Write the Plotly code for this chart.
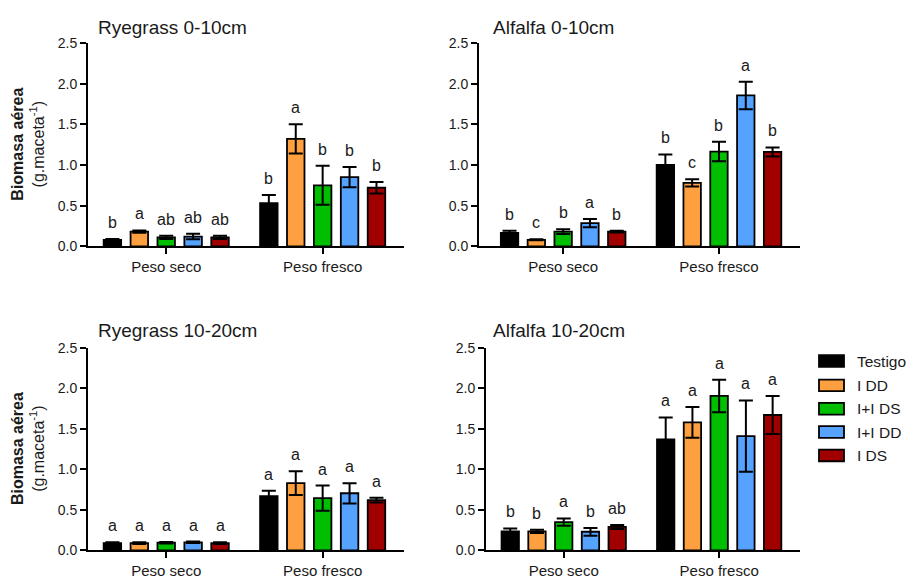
import plotly.graph_objects as go

# ---------------- data ----------------
categories = ["Peso seco", "Peso fresco"]
treatments = ["Testigo", "I DD", "I+I DS", "I+I DD", "I DS"]
bar_colors = ["#000000", "#FFA040", "#00BF00", "#55A2FF", "#A00000"]

panel_titles = ["Ryegrass 0-10cm", "Alfalfa 0-10cm", "Ryegrass 10-20cm", "Alfalfa 10-20cm"]

# values indexed [category][treatment]
rye_0_10_mean = [[0.08, 0.18, 0.11, 0.12, 0.11], [0.53, 1.32, 0.75, 0.85, 0.72]]
rye_0_10_err = [[0.01, 0.015, 0.02, 0.035, 0.02], [0.10, 0.18, 0.24, 0.125, 0.07]]
rye_0_10_let = [["b", "a", "ab", "ab", "ab"], ["b", "a", "b", "b", "b"]]

alf_0_10_mean = [[0.165, 0.08, 0.18, 0.285, 0.18], [1.00, 0.78, 1.165, 1.855, 1.16]]
alf_0_10_err = [[0.025, 0.005, 0.03, 0.05, 0.01], [0.13, 0.045, 0.12, 0.17, 0.055]]
alf_0_10_let = [["b", "c", "b", "a", "b"], ["b", "c", "b", "a", "b"]]

rye_10_20_mean = [[0.09, 0.09, 0.095, 0.10, 0.09], [0.67, 0.83, 0.645, 0.705, 0.62]]
rye_10_20_err = [[0.01, 0.01, 0.01, 0.01, 0.01], [0.065, 0.145, 0.155, 0.125, 0.03]]
rye_10_20_let = [["a", "a", "a", "a", "a"], ["a", "a", "a", "a", "a"]]

alf_10_20_mean = [[0.235, 0.235, 0.35, 0.23, 0.29], [1.37, 1.58, 1.905, 1.41, 1.67]]
alf_10_20_err = [[0.036, 0.02, 0.045, 0.048, 0.025], [0.27, 0.19, 0.20, 0.44, 0.235]]
alf_10_20_let = [["b", "b", "a", "b", "ab"], ["a", "a", "a", "a", "a"]]

y_ticks = [0.0, 0.5, 1.0, 1.5, 2.0, 2.5]
y_tick_text = ["0.0", "0.5", "1.0", "1.5", "2.0", "2.5"]
y_title = "<b>Biomasa aérea</b><br>(g.maceta<sup>-1</sup>)"

panels = [
    (rye_0_10_mean, rye_0_10_err, rye_0_10_let),
    (alf_0_10_mean, alf_0_10_err, alf_0_10_let),
    (rye_10_20_mean, rye_10_20_err, rye_10_20_let),
    (alf_10_20_mean, alf_10_20_err, alf_10_20_let),
]

# ---------------- layout geometry ----------------
W, H = 909, 584
FONT = "Liberation Sans, Arial, Helvetica, sans-serif"
TXT = "#1a1a1a"
BARGAP = 0.14
BARGROUPGAP = 0.35

# pixel boxes: (x_left, x_right, y_top, y_bottom), x-range
boxes = [
    (88, 404, 36, 245, [-0.5, 1.52]),
    (479, 800, 36, 245, [-0.54, 1.52]),
    (88, 404, 349.3, 557.7, [-0.5, 1.52]),
    (486, 800, 349.3, 557.7, [-0.5, 1.52]),
]
title_pos = [(96, 20), (491, 20), (96, 332), (491, 332)]

fig = go.Figure()
annotations = []

for p, (means, errs, lets) in enumerate(panels):
    xa = "x" if p == 0 else f"x{p+1}"
    ya = "y" if p == 0 else f"y{p+1}"
    for t, name in enumerate(treatments):
        fig.add_trace(go.Bar(
            x=categories,
            y=[means[c][t] for c in range(len(categories))],
            error_y=dict(type="data", array=[errs[c][t] for c in range(len(categories))],
                         color="#000000", thickness=2, width=7, visible=True),
            marker=dict(color=bar_colors[t], line=dict(color="#000000", width=1.8)),
            name=name, showlegend=False, xaxis=xa, yaxis=ya, offsetgroup=str(t),
        ))
    gw = 1 - BARGAP
    for c in range(len(categories)):
        for t in range(len(treatments)):
            xoff = -gw / 2 + gw / len(treatments) * (t + 0.5)
            annotations.append(dict(
                x=c + xoff, y=means[c][t] + errs[c][t], xref=xa, yref=ya,
                text=lets[c][t], showarrow=False, yanchor="bottom", yshift=6,
                font=dict(size=16, color=TXT, family=FONT),
            ))

layout = dict(
    width=W, height=H, margin=dict(l=0, r=0, t=0, b=0),
    paper_bgcolor="white", plot_bgcolor="white",
    barmode="group", bargap=BARGAP, bargroupgap=BARGROUPGAP,
    showlegend=False, font=dict(family=FONT, color=TXT),
)
for p, (x0, x1, y0, y1, xr) in enumerate(boxes):
    xk = "xaxis" if p == 0 else f"xaxis{p+1}"
    yk = "yaxis" if p == 0 else f"yaxis{p+1}"
    ya = "y" if p == 0 else f"y{p+1}"
    xa = "x" if p == 0 else f"x{p+1}"
    layout[xk] = dict(
        domain=[x0 / W, x1 / W], anchor=ya, type="category", range=xr,
        showline=True, linecolor="#000000", linewidth=2,
        ticks="outside", ticklen=6, tickwidth=2, tickcolor="#000000",
        showgrid=False, zeroline=False, fixedrange=True,
        tickfont=dict(size=15, color=TXT, family=FONT),
    )
    layout[yk] = dict(
        domain=[(H - y1) / H, (H - y0) / H], anchor=xa, range=[0, 2.5],
        tickvals=y_ticks, ticktext=y_tick_text,
        showline=True, linecolor="#000000", linewidth=2,
        ticks="outside", ticklen=6, tickwidth=2, tickcolor="#000000",
        showgrid=False, zeroline=False, fixedrange=True,
        tickfont=dict(size=14, color=TXT, family=FONT),
    )
    tx, ty = title_pos[p]
    annotations.append(dict(
        x=tx / W, y=(H - ty) / H, xref="paper", yref="paper",
        text=panel_titles[p], showarrow=False, xanchor="left", yanchor="middle",
        font=dict(size=19, color=TXT, family=FONT),
    ))
    if p in (0, 2):
        annotations.append(dict(
            x=28 / W, y=(H - (y0 + y1) / 2) / H, xref="paper", yref="paper",
            text=y_title, showarrow=False, textangle=-90,
            xanchor="center", yanchor="middle",
            font=dict(size=16, color=TXT, family=FONT),
        ))

# manual legend (wide swatches like the original)
shapes = []
legend_rows = [363, 388, 412, 436, 460]
for t, name in enumerate(treatments):
    yc = legend_rows[t]
    shapes.append(dict(
        type="rect", xref="paper", yref="paper",
        x0=819 / W, x1=844 / W, y0=(H - yc - 6) / H, y1=(H - yc + 6) / H,
        fillcolor=bar_colors[t], line=dict(color="#000000", width=1.8),
    ))
    annotations.append(dict(
        x=855 / W, y=(H - yc) / H, xref="paper", yref="paper",
        text=name, showarrow=False, xanchor="left", yanchor="middle",
        font=dict(size=15.5, color=TXT, family=FONT),
    ))

layout["annotations"] = annotations
layout["shapes"] = shapes
fig.update_layout(**layout)
fig.write_html(
    "out.html",
    config={"displayModeBar": False, "staticPlot": True},
    post_script="document.body.style.margin='0px';document.body.style.padding='0px';document.body.style.overflow='hidden';",
)
